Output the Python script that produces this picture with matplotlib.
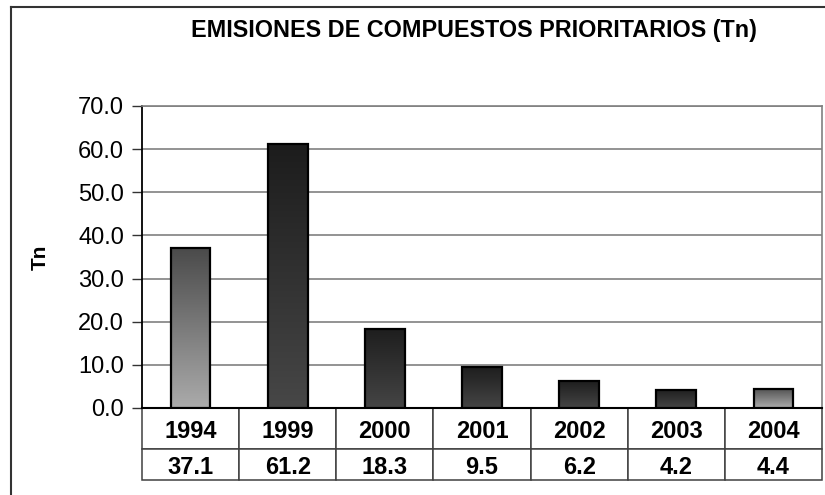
import matplotlib
matplotlib.use("Agg")
import matplotlib.pyplot as plt
import numpy as np
from matplotlib.colors import LinearSegmentedColormap

plt.rcParams['font.family'] = ['Liberation Sans', 'DejaVu Sans']

# ---- data ----
years = ["1994", "1999", "2000", "2001", "2002", "2003", "2004"]
values = [37.1, 61.2, 18.3, 9.5, 6.2, 4.2, 4.4]
title = "EMISIONES DE COMPUESTOS PRIORITARIOS (Tn)"
ylabel = "Tn"
yticks = [0, 10, 20, 30, 40, 50, 60, 70]

# ---- style: per-bar gradient (top colour, bottom colour) ----
grad_top = ["#4a4a4a", "#1c1c1c", "#1e1e1e", "#1e1e1e", "#1e1e1e", "#1e1e1e", "#555555"]
grad_bot = ["#ababab", "#474747", "#454545", "#454545", "#454545", "#454545", "#acacac"]

W, H = 825, 495
fig = plt.figure(figsize=(W / 100, H / 100), dpi=100)
fig.patch.set_facecolor("white")

ax_l, ax_r, ax_t, ax_b = 142, 822, 106, 408
ax = fig.add_axes([ax_l / W, 1 - ax_b / H, (ax_r - ax_l) / W, (ax_b - ax_t) / H])

x = np.arange(len(years))
ax.set_xlim(-0.5, len(years) - 0.5)
ax.set_ylim(0, 70)

bars = ax.bar(x, values, width=0.41, facecolor="none", edgecolor="black",
              linewidth=1.6, zorder=4)
for b, ct, cb in zip(bars, grad_top, grad_bot):
    cmap = LinearSegmentedColormap.from_list("g", [cb, ct])
    x0, y0 = b.get_x(), b.get_y()
    w, h = b.get_width(), b.get_height()
    grad = np.linspace(0, 1, 256).reshape(-1, 1)
    im = ax.imshow(grad, cmap=cmap, origin="lower", aspect="auto",
                   extent=[x0, x0 + w, y0, y0 + h], zorder=3,
                   interpolation="bicubic")
    im.set_clip_path(b)
ax.set_xlim(-0.5, len(years) - 0.5)
ax.set_ylim(0, 70)

ax.set_yticks(yticks)
ax.set_yticklabels([f"{v:.1f}" for v in yticks], fontsize=17)
ax.tick_params(axis="y", length=7, width=1, color="#333333", pad=6)
ax.set_xticks([])
ax.yaxis.grid(True, color="#808080", linewidth=1.2, zorder=1)
ax.set_axisbelow(True)
for s in ["top", "right"]:
    ax.spines[s].set_color("#808080")
    ax.spines[s].set_linewidth(1.2)
ax.spines["left"].set_color("black")
ax.spines["left"].set_linewidth(1.3)
ax.spines["bottom"].set_color("black")
ax.spines["bottom"].set_linewidth(1.5)

ax.set_ylabel(ylabel, fontsize=15, fontweight="bold")
ax.yaxis.set_label_coords((50 - ax_l) / (ax_r - ax_l), 0.5)

# data table under the axis (row 1: 408-449 px, row 2: 449-480 px)
tb_h = (480 - ax_b) / (ax_b - ax_t)
table = ax.table(cellText=[years, [f"{v:.1f}" for v in values]],
                 cellLoc="center", bbox=[0, -tb_h, 1, tb_h])
table.auto_set_font_size(False)
row_h = {0: 41, 1: 31}
for (r, c), cell in table.get_celld().items():
    cell.set_height(row_h[r])
    cell.set_edgecolor("#404040")
    cell.set_linewidth(1.1)
    t = cell.get_text()
    t.set_fontsize(17)
    t.set_fontweight("bold")
    t.set_verticalalignment("center_baseline")

fig.text(474 / W, 1 - 31 / H, title, ha="center", va="center",
         fontsize=16.8, fontweight="bold")

# outer chart border (left and top visible)
fig.add_artist(plt.Line2D([11 / W, 11 / W], [0, 1 - 7 / H], color="#333333",
                          linewidth=1.5, transform=fig.transFigure))
fig.add_artist(plt.Line2D([11 / W, 1], [1 - 7 / H, 1 - 7 / H], color="#333333",
                          linewidth=1.5, transform=fig.transFigure))

fig.savefig("out.png", dpi=100)
